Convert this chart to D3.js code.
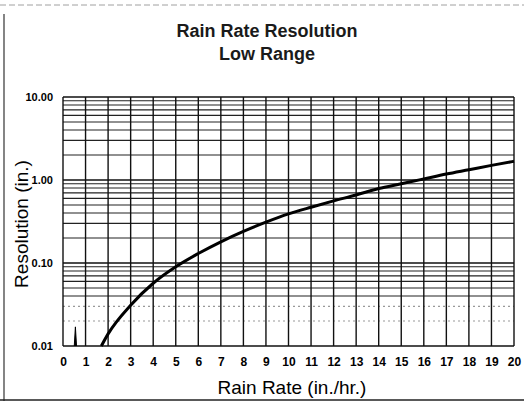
<!DOCTYPE html>
<html><head><meta charset="utf-8">
<script src="https://cdn.jsdelivr.net/npm/d3@7"></script>
<style>body{margin:0;background:#fff}svg{display:block}</style>
</head><body>
<script>
const rainRate = [1.7, 2, 3, 4, 5, 6, 7, 8, 9, 10, 11, 12, 13, 14, 15, 16, 17, 18, 19, 20];
const resolution = [0.010, 0.014, 0.031, 0.057, 0.09, 0.13, 0.18, 0.24, 0.31, 0.39, 0.47, 0.56, 0.66, 0.79, 0.90, 1.03, 1.18, 1.33, 1.50, 1.68];
const spikeX = [0.5, 0.55, 0.6];
const spikeY = [0.01, 0.017, 0.01];
const xTicks = d3.range(0, 21);
const yTicks = [0.01, 0.1, 1, 10];
const yTickLabels = ["0.01", "0.10", "1.00", "10.00"];
const title = ["Rain Rate Resolution", "Low Range"];

const W = 524, H = 409;
const svg = d3.select("body").append("svg").attr("width", W).attr("height", H);
const x = d3.scaleLinear().domain([0, 20]).range([63, 514]);
const y = d3.scaleLog().domain([0.01, 10]).range([346, 97]);

// frame (scan border)
svg.append("line").attr("x1", 4).attr("x2", 4).attr("y1", 14).attr("y2", 401).attr("stroke", "#333").attr("stroke-width", 1.2);
svg.append("line").attr("x1", 0).attr("x2", 524).attr("y1", 5).attr("y2", 5).attr("stroke", "#888").attr("stroke-width", 0.8).attr("stroke-dasharray", "6,3");
svg.append("line").attr("x1", 0).attr("x2", 524).attr("y1", 400).attr("y2", 400).attr("stroke", "#222").attr("stroke-width", 1.5);

// minor horizontal grid
const minor = [];
[0.01, 0.1, 1].forEach(d => { for (let k = 2; k <= 9; k++) minor.push(d * k); });
const g = svg.append("g");
g.selectAll(".hmin").data(minor).join("line")
  .attr("x1", x(0)).attr("x2", x(20))
  .attr("y1", d => y(d)).attr("y2", d => y(d))
  .attr("stroke", d => d < 0.04 ? "#999" : "#222")
  .attr("stroke-dasharray", d => d < 0.04 ? "2,3" : null)
  .attr("stroke-width", 1.1);
g.selectAll(".hmaj").data(yTicks).join("line")
  .attr("x1", x(0)).attr("x2", x(20))
  .attr("y1", d => y(d)).attr("y2", d => y(d))
  .attr("stroke", "#111").attr("stroke-width", 1.6);
g.selectAll(".v").data(xTicks).join("line")
  .attr("x1", d => x(d)).attr("x2", d => x(d))
  .attr("y1", y(10)).attr("y2", y(0.01))
  .attr("stroke", "#111").attr("stroke-width", 1.4);

// axes labels via d3 axes
const yAxis = d3.axisLeft(y).tickValues(yTicks).tickFormat((d, i) => yTickLabels[i]).tickSize(0).tickPadding(10);
const ya = svg.append("g").attr("transform", `translate(${x(0)},0)`).call(yAxis);
ya.select(".domain").remove();
ya.selectAll("text").attr("font-family", "'Liberation Sans Narrow', 'Liberation Sans', sans-serif")
  .attr("font-weight", "bold").attr("font-size", 11).attr("fill", "#000");

const xAxis = d3.axisBottom(x).tickValues(xTicks).tickFormat(d3.format("d")).tickSize(0).tickPadding(11);
const xa = svg.append("g").attr("transform", `translate(0,${y(0.01)})`).call(xAxis);
xa.select(".domain").remove();
xa.selectAll("text").attr("font-family", "'Liberation Sans Narrow', 'Liberation Sans', sans-serif")
  .attr("font-weight", "bold").attr("font-size", 12).attr("fill", "#000");

// spike
svg.append("path").datum(spikeX.map((d, i) => [d, spikeY[i]]))
  .attr("d", d3.line().x(d => x(d[0])).y(d => y(d[1])))
  .attr("fill", "#000").attr("stroke", "#000").attr("stroke-width", 1);

// curve
svg.append("path").datum(rainRate.map((d, i) => [d, resolution[i]]))
  .attr("d", d3.line().x(d => x(d[0])).y(d => y(d[1])).curve(d3.curveMonotoneX))
  .attr("fill", "none").attr("stroke", "#000").attr("stroke-width", 3);

// title
svg.selectAll(".title").data(title).join("text")
  .attr("x", 267).attr("y", (d, i) => 37 + i * 23)
  .attr("text-anchor", "middle")
  .attr("font-family", "'Liberation Sans', Arial, sans-serif")
  .attr("font-size", 18).attr("font-weight", "bold").attr("fill", "#1a1a1a")
  .text(d => d);

svg.append("text").attr("x", 292).attr("y", 394).attr("text-anchor", "middle")
  .attr("font-family", "'Liberation Sans', Arial, sans-serif")
  .attr("font-size", 19).attr("fill", "#000").text("Rain Rate (in./hr.)");

svg.append("text").attr("transform", "translate(28,224) rotate(-90)").attr("text-anchor", "middle")
  .attr("font-family", "'Liberation Sans', Arial, sans-serif")
  .attr("font-size", 19).attr("fill", "#000").text("Resolution (in.)");
</script>
</body></html>
